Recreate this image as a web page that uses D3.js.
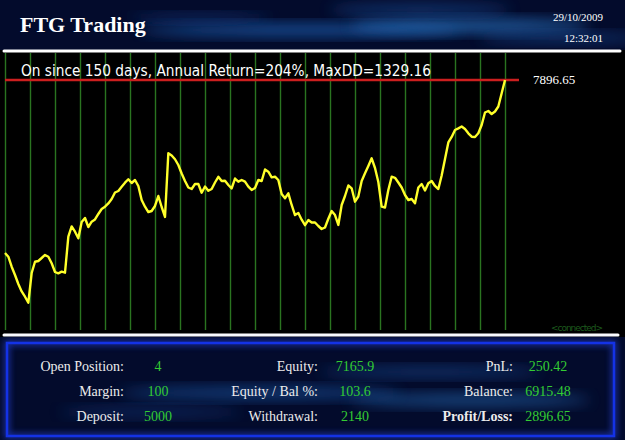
<!DOCTYPE html>
<html>
<head>
<meta charset="utf-8">
<script src="https://cdn.jsdelivr.net/npm/d3@7/dist/d3.min.js"></script>
<style>
  body { margin: 0; background: #000; }
  svg { display: block; }
</style>
</head>
<body>
<div id="chart-area"></div>
<script>
// Datos
var title = "FTG Trading";
var dateText = "29/10/2009";
var timeText = "12:32:01";
var infoText = "On since 150 days, Annual Return=204%, MaxDD=1329.16";
var lastLabel = "7896.65";
var statusText = "<connected>";

// equity por dia (dia 0 .. 150)
var equity = [
  5000, 4938, 4771, 4632, 4481, 4356, 4268, 4168, 4665, 4854,
  4866, 4916, 4967, 4938, 4828, 4682, 4660, 4687, 4670, 5273,
  5444, 5357, 5246, 5519, 5586, 5435, 5524, 5561, 5653, 5737,
  5775, 5829, 5904, 6013, 6038, 6110, 6177, 6234, 6172, 6222,
  6122, 5887, 5775, 5686, 5703, 5787, 5954, 5770, 5603, 6669,
  6632, 6569, 6473, 6331, 6205, 6096, 6071, 6155, 6155, 6009,
  6113, 6041, 6071, 6180, 6276, 6205, 6210, 6138, 6080, 6247,
  6194, 6222, 6194, 6110, 6055, 6088, 6222, 6205, 6398, 6361,
  6267, 6277, 6222, 5988, 5916, 5999, 5804, 5636, 5670, 5557,
  5465, 5552, 5511, 5511, 5452, 5402, 5427, 5574, 5703, 5636,
  5469, 5804, 5954, 6130, 6083, 5859, 5946, 6205, 6334, 6456,
  6585, 6423, 6189, 5775, 5762, 6055, 6277, 6259, 6180, 6096,
  5971, 5887, 5904, 5832, 6096, 6155, 6046, 6167, 6205, 6122,
  6071, 6297, 6574, 6850, 6942, 7059, 7087, 7118, 7076, 7004,
  6947, 6942, 7004, 7143, 7352, 7377, 7327, 7369, 7452, 7673,
  7896.65
];
var days = d3.range(equity.length);
var gridDays = [0, 7.5, 15, 22.5, 30, 37.5, 45, 52.5, 60, 67.5, 75, 82.5, 90, 97.5, 105, 112.5, 120, 127.5, 135, 142.5, 150];

var statsLabels = ["Open Position:", "Margin:", "Deposit:", "Equity:", "Equity / Bal %:", "Withdrawal:", "PnL:", "Balance:", "Profit/Loss:"];
var statsValues = ["4", "100", "5000", "7165.9", "103.6", "2140", "250.42", "6915.48", "2896.65"];

// SVG
var width = 625;
var height = 440;
var plotTop = 53, plotBottom = 330;
var serif = "'Liberation Serif', 'Times New Roman', serif";

var svg = d3.select("#chart-area")
    .append("svg")
    .attr("width", width)
    .attr("height", height);

var defs = svg.append("defs");
defs.append("filter").attr("id", "blur")
    .attr("x", "-50%").attr("y", "-50%").attr("width", "200%").attr("height", "200%")
    .append("feGaussianBlur").attr("stdDeviation", 7);
defs.append("filter").attr("id", "blur2")
    .attr("x", "-50%").attr("y", "-50%").attr("width", "200%").attr("height", "200%")
    .append("feGaussianBlur").attr("stdDeviation", 3);

// fondo
svg.append("rect").attr("width", width).attr("height", height).attr("fill", "#000");

// cabecera
var head = svg.append("g");
head.append("rect").attr("width", width).attr("height", 50).attr("fill", "#030b2c");
var headStreaks = [
  {cx: 300, cy: 30, rx: 160, ry: 6, c: "#1e5fb0", o: 0.8},
  {cx: 470, cy: 26, rx: 120, ry: 7, c: "#2a78c8", o: 0.7},
  {cx: 420, cy: 10, rx: 90, ry: 5, c: "#1d4f9a", o: 0.7},
  {cx: 560, cy: 38, rx: 80, ry: 5, c: "#1d4f9a", o: 0.6},
  {cx: 200, cy: 18, rx: 70, ry: 4, c: "#15408a", o: 0.6}
];
head.selectAll("ellipse").data(headStreaks).enter().append("ellipse")
    .attr("cx", function(d){ return d.cx; })
    .attr("cy", function(d){ return d.cy; })
    .attr("rx", function(d){ return d.rx; })
    .attr("ry", function(d){ return d.ry; })
    .attr("fill", function(d){ return d.c; })
    .attr("opacity", function(d){ return d.o; })
    .attr("filter", "url(#blur)");

head.append("text")
    .attr("x", 20).attr("y", 32)
    .attr("font-family", serif)
    .attr("font-weight", "bold")
    .attr("font-size", "22px")
    .attr("fill", "#fff")
    .text(title);
head.append("text")
    .attr("x", 603).attr("y", 21)
    .attr("text-anchor", "end")
    .attr("font-family", serif)
    .attr("font-size", "11px")
    .attr("fill", "#fff")
    .text(dateText);
head.append("text")
    .attr("x", 603).attr("y", 42)
    .attr("text-anchor", "end")
    .attr("font-family", serif)
    .attr("font-size", "11px")
    .attr("fill", "#fff")
    .text(timeText);

// area grafica
svg.append("rect").attr("x", 0).attr("y", 50).attr("width", width).attr("height", 287).attr("fill", "#000");

// escalas
var x = d3.scaleLinear().domain([0, 150]).range([5, 505]);
var y = d3.scaleLinear().domain([3711, 8348]).range([plotBottom, plotTop]);

// rejilla vertical
var gridAxis = d3.axisBottom(x).tickValues(gridDays).tickSize(-(plotBottom - plotTop)).tickFormat("");
var grid = svg.append("g")
    .attr("class", "grid")
    .attr("transform", "translate(0," + plotBottom + ")")
    .call(gridAxis);
grid.select(".domain").remove();
grid.selectAll(".tick line")
    .attr("stroke", "#2a7420")
    .attr("stroke-width", 1.4);

// linea roja del ultimo valor
var last = equity[equity.length - 1];
svg.append("line")
    .attr("x1", x(0)).attr("x2", x(150) + 14)
    .attr("y1", y(last)).attr("y2", y(last))
    .attr("stroke", "#cc1f1f")
    .attr("stroke-width", 2.5);
svg.append("text")
    .attr("x", 533).attr("y", y(last) + 4)
    .attr("font-family", serif)
    .attr("font-size", "13px")
    .attr("fill", "#fff")
    .text(lastLabel);

svg.append("text")
    .attr("x", 21).attr("y", 76)
    .attr("font-family", "'DejaVu Sans', sans-serif")
    .attr("font-size", "15px")
    .attr("textLength", 410)
    .attr("lengthAdjust", "spacingAndGlyphs")
    .attr("fill", "#fff")
    .text(infoText);

// linea de equity
var line = d3.line()
    .x(function(d, i){ return x(days[i]); })
    .y(function(d){ return y(d); });
svg.append("path")
    .datum(equity)
    .attr("d", line)
    .attr("fill", "none")
    .attr("stroke", "#ffff2a")
    .attr("stroke-width", 2.4)
    .attr("stroke-linejoin", "round");

svg.append("text")
    .attr("x", 603).attr("y", 331)
    .attr("text-anchor", "end")
    .attr("font-family", "'DejaVu Sans', sans-serif")
    .attr("font-size", "9px")
    .attr("textLength", 52)
    .attr("fill", "#1d5a1d")
    .text(statusText);

// lineas blancas
svg.append("line").attr("x1", 4).attr("x2", 620).attr("y1", 51).attr("y2", 51)
    .attr("stroke", "#fff").attr("stroke-width", 3).attr("stroke-linecap", "round");
svg.append("line").attr("x1", 4).attr("x2", 618).attr("y1", 335).attr("y2", 335)
    .attr("stroke", "#fff").attr("stroke-width", 3).attr("stroke-linecap", "round");

// panel inferior
var panel = svg.append("g");
panel.append("rect").attr("x", 0).attr("y", 337).attr("width", width).attr("height", 103).attr("fill", "#030b2c");
var panelStreaks = [
  {cx: 260, cy: 393, rx: 140, ry: 6, c: "#1e5fb0", o: 0.6},
  {cx: 430, cy: 372, rx: 110, ry: 5, c: "#1d4f9a", o: 0.6},
  {cx: 470, cy: 400, rx: 120, ry: 6, c: "#2a78c8", o: 0.55},
  {cx: 150, cy: 412, rx: 90, ry: 5, c: "#15408a", o: 0.5}
];
panel.selectAll("ellipse").data(panelStreaks).enter().append("ellipse")
    .attr("cx", function(d){ return d.cx; })
    .attr("cy", function(d){ return d.cy; })
    .attr("rx", function(d){ return d.rx; })
    .attr("ry", function(d){ return d.ry; })
    .attr("fill", function(d){ return d.c; })
    .attr("opacity", function(d){ return d.o; })
    .attr("filter", "url(#blur)");
panel.append("rect")
    .attr("x", 7).attr("y", 343).attr("width", 607).attr("height", 93)
    .attr("fill", "none").attr("stroke", "#2a4cff").attr("stroke-width", 5).attr("opacity", 0.6)
    .attr("filter", "url(#blur2)");
panel.append("rect")
    .attr("x", 7).attr("y", 343).attr("width", 607).attr("height", 93)
    .attr("fill", "none").attr("stroke", "#1432e6").attr("stroke-width", 2.5);

var labelX = [124, 318, 513];
var valueX = [158, 355, 548];
var rowY = [371, 396, 421];
statsLabels.forEach(function(lab, i){
    var col = Math.floor(i / 3), row = i % 3;
    panel.append("text")
        .attr("x", labelX[col]).attr("y", rowY[row])
        .attr("text-anchor", "end")
        .attr("font-family", serif)
        .attr("font-size", "14px")
        .attr("font-weight", lab === "Profit/Loss:" ? "bold" : "normal")
        .attr("fill", "#ececec")
        .text(lab);
    panel.append("text")
        .attr("x", valueX[col]).attr("y", rowY[row])
        .attr("text-anchor", "middle")
        .attr("font-family", serif)
        .attr("font-size", "14px")
        .attr("fill", "#33cc33")
        .text(statsValues[i]);
});
</script>
</body>
</html>
